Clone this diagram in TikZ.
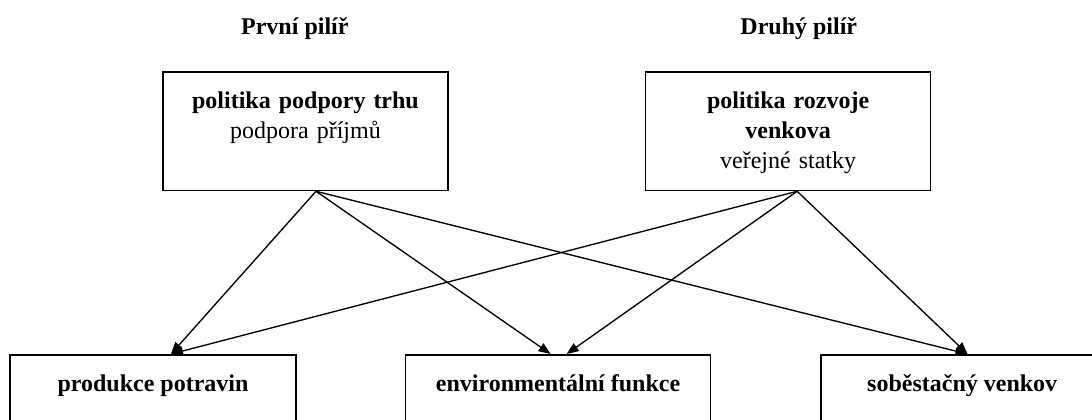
\documentclass[tikz,border=0pt]{standalone}
\usepackage{fontspec}
\setmainfont{Liberation Serif}
\usepackage{tikz}
\usetikzlibrary{positioning,arrows.meta}
\newcommand{\diafont}{\fontsize{18pt}{22.5pt}\selectfont}

\begin{document}
\begin{tikzpicture}[x=0.75pt, y=-0.75pt,
  pillar/.style={draw, line width=1.2pt, font=\diafont\bfseries, align=center, text width=203.75pt, inner xsep=5pt, inner ysep=15pt, text height=12.5pt, text depth=46.5pt},
  goal/.style={draw, line width=1.2pt, font=\diafont\bfseries, align=center, inner xsep=5pt, inner ysep=15pt, text height=12.5pt, text depth=60pt},
  head/.style={font=\diafont\bfseries, inner sep=0pt},
  link/.style={-{Triangle[length=9pt,width=7pt]}, line width=1pt}]
\useasboundingbox (0,0) rectangle (1092,419);
\node[pillar, anchor=north] (trh) at (305.5,71) {politika podpory trhu\\ \mdseries podpora příjmů};
\node[pillar, right=147pt of trh] (rozvoj) {politika rozvoje\\ venkova\\ \mdseries veřejné statky};
\node[head, above=23pt of trh.north, xshift=-8pt] (pilir1) {První pilíř};
\node[head, above=23pt of rozvoj.north, xshift=8pt] (pilir2) {Druhý pilíř};
\node[goal, anchor=north, minimum width=214.5pt] (potraviny) at (153,354) {produkce potravin};
\node[goal, minimum width=228.75pt, right=81pt of potraviny] (funkce) {environmentální funkce};
\node[goal, minimum width=211.5pt, right=81.75pt of funkce] (venkov) {soběstačný venkov};
\coordinate (trhout) at ([xshift=7.9pt]trh.south);
\coordinate (rozout) at ([xshift=6.75pt]rozvoj.south);
\draw[link] (trhout) -- ([xshift=13.5pt]potraviny.north);
\draw[link] (trhout) -- ([xshift=-5.6pt]funkce.north);
\draw[link] (trhout) -- ([xshift=4pt]venkov.north);
\draw[link] (rozout) -- ([xshift=13.5pt]potraviny.north);
\draw[link] (rozout) -- ([xshift=6.4pt]funkce.north);
\draw[link] (rozout) -- ([xshift=4pt]venkov.north);
\end{tikzpicture}
\end{document}
